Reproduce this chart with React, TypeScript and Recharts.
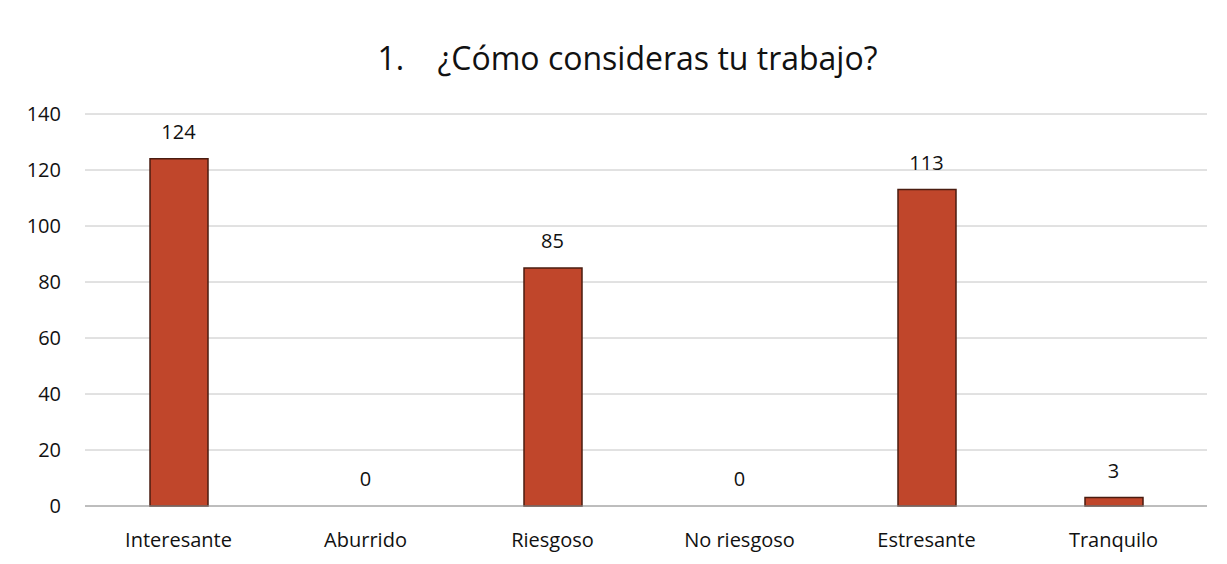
import React from 'react'
import { ComposedChart, Bar, Line, XAxis, YAxis, CartesianGrid, LabelList } from 'recharts'

const categories = ['Interesante', 'Aburrido', 'Riesgoso', 'No riesgoso', 'Estresante', 'Tranquilo']
const counts = [124, 0, 85, 0, 113, 3]
const yTicks = [0, 20, 40, 60, 80, 100, 120, 140]

const data = categories.map((name, i) => ({ name, value: counts[i] }))

const font = '"Open Sans", sans-serif'

const App = () => {
  return (
    <div style={{ position: 'absolute', left: 0, top: 0, width: 1227, height: 564, background: '#fff', fontFamily: font }}>
      <div
        style={{
          position: 'absolute',
          top: 36,
          left: 0,
          width: 1255,
          textAlign: 'center',
          fontSize: 32,
          color: '#111',
          whiteSpace: 'pre'
        }}
      >
        {'1.    ¿Cómo consideras tu trabajo?'}
      </div>
      <ComposedChart
        width={1227}
        height={564}
        data={data}
        margin={{ top: 114, right: 20, left: 0, bottom: 28 }}
        barSize={58}
      >
        <CartesianGrid vertical={false} stroke="#c4c4c4" strokeWidth={1} />
        <XAxis
          dataKey="name"
          height={30}
          tickLine={false}
          axisLine={{ stroke: '#9a9a9a' }}
          tick={{ fill: '#111', fontSize: 20, fontFamily: font }}
          tickMargin={21}
        />
        <YAxis
          width={85}
          domain={[0, 140]}
          ticks={yTicks}
          tickLine={false}
          axisLine={false}
          tick={{ fill: '#111', fontSize: 20, fontFamily: font }}
          tickMargin={18}
        />
        <Bar dataKey="value" fill="#c0462b" stroke="#4a1c10" strokeWidth={1.5} isAnimationActive={false} />
        <Line dataKey="value" stroke="none" dot={false} activeDot={false} isAnimationActive={false}>
          <LabelList dataKey="value" position="top" offset={20} fill="#111" fontSize={20} fontFamily={font} />
        </Line>
      </ComposedChart>
    </div>
  )
}

export default App
